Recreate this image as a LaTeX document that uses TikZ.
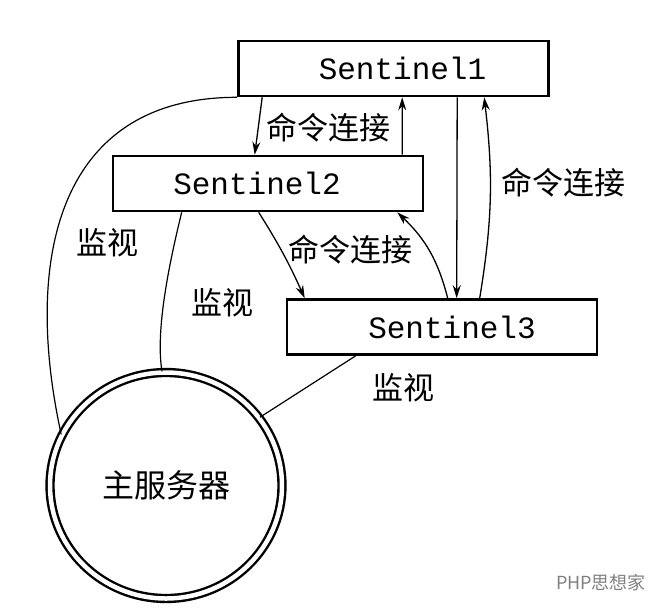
\documentclass[tikz,border=0pt]{standalone}
\usepackage{fontspec}
\setmonofont{Liberation Mono}
\newfontfamily\cjk{Noto Sans CJK SC}
\usepackage{tikz}
\usetikzlibrary{arrows.meta,shapes.geometric,calc}

\begin{document}
\begin{tikzpicture}[x=1pt, y=-1pt,
    sen/.style={draw, line width=2.6pt,
      minimum width=310pt, minimum height=55pt, inner sep=0pt,
      font=\fontsize{31}{34}\selectfont\ttfamily},
    srv/.style={ellipse, draw, line width=2.4pt, double distance=4.5pt,
      minimum width=232pt, minimum height=226pt, inner sep=0pt,
      font=\fontsize{32}{36}\selectfont\cjk},
    lbl/.style={font=\fontsize{31}{36}\selectfont\cjk, inner sep=0pt},
    arr/.style={-{Stealth[length=13pt, width=8pt]}, line width=1.3pt},
    mon/.style={line width=1.2pt}]
  \useasboundingbox (0,0) rectangle (664,611);
  % === Sentinels ===
  \node[sen] (s1) at (393.5,68.5) {\hspace*{18pt}Sentinel1};
  \node[sen] (s2) at (268,183.5)  {Sentinel2\hspace*{22pt}};
  \node[sen] (s3) at (442,327)    {\hspace*{20pt}Sentinel3};
  % === Master server ===
  \node[srv] (srv) at (166,485.5) {主服务器};
  % === Command connections ===
  \draw[arr] ($(s1.south west)+(25,0)$)  -- ($(s2.north west)+(143,0)$);
  \draw[arr] ($(s2.north east)+(-22,0)$) -- ($(s1.south west)+(165,0)$);
  \draw[arr] ($(s1.south west)+(220,0)$) -- ($(s3.north west)+(171,0)$);
  \draw[arr] ($(s3.north west)+(194,0)$) to[bend right=8] ($(s1.south west)+(247,0)$);
  \draw[arr] ($(s2.south west)+(147,0)$) to[bend left=4] ($(s3.north west)+(19,0)$);
  \draw[arr] ($(s3.north west)+(162,0)$) to[bend right=16] ($(s2.south east)+(-27,0)$);
  \node[lbl] (c12) at (328,128) {命令连接};
  \node[lbl] (c23) at (350,250) {命令连接};
  \node[lbl] (c13) at (563,183) {命令连接};
  % === Monitoring ===
  \draw[mon] (s1.south west) .. controls (60,97) and (22,255) .. (srv.154);
  \draw[mon] ($(s2.south west)+(70,0)$) .. controls (170,260) and (155,330) .. (srv.92);
  \draw[mon] ($(s3.south west)+(70,0)$) -- (srv.36);
  \node[lbl] (m1) at (107,243) {监视};
  \node[lbl] (m2) at (222,303) {监视};
  \node[lbl] (m3) at (403,388) {监视};
  % === Watermark ===
  \node[font=\fontsize{18}{20}\selectfont\cjk, text=gray] (wm) at (601,583) {PHP思想家};
\end{tikzpicture}
\end{document}
